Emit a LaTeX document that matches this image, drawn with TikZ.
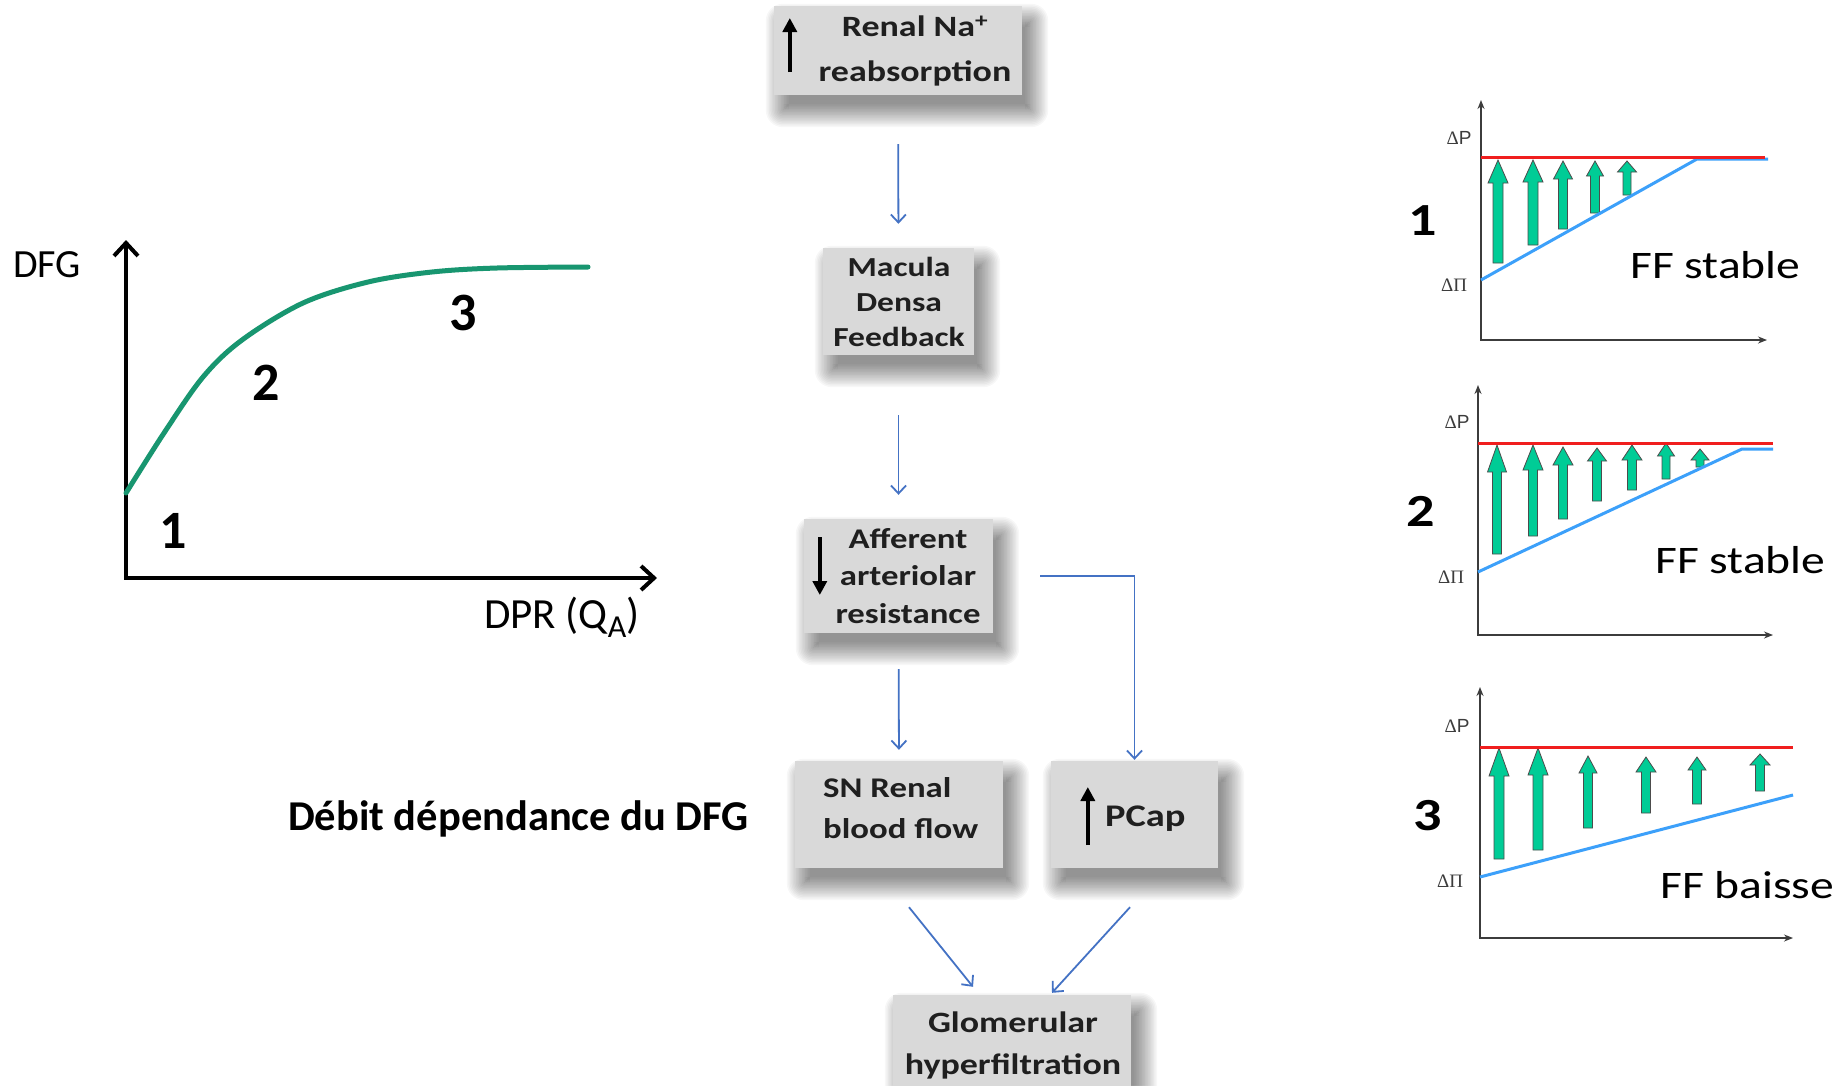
\documentclass[tikz,border=0pt]{standalone}
\usepackage{fontspec}
\setmainfont{Carlito}
\newfontfamily\wideface[FakeStretch=1.22]{Carlito}
\newfontfamily\greekface{Liberation Serif}
\newfontfamily\latinface{Liberation Sans}
\usetikzlibrary{arrows.meta,backgrounds}

\definecolor{boxgray}{RGB}{217,217,217}
\definecolor{flowblue}{RGB}{68,114,196}
\definecolor{curvegreen}{RGB}{24,150,112}
\definecolor{fillgreen}{RGB}{0,204,150}
\definecolor{lineblue}{RGB}{60,160,250}
\definecolor{linered}{RGB}{240,30,30}
\definecolor{axisgray}{RGB}{60,60,60}

% fat upward arrow: x, tip y, bottom y, head length, head width, shaft width
\newcommand{\fatup}[6]{%
  \filldraw[garrow] (#1-#6/2,#3) -- (#1-#6/2,#2+#4) -- (#1-#5/2,#2+#4) -- (#1,#2)
    -- (#1+#5/2,#2+#4) -- (#1+#6/2,#2+#4) -- (#1+#6/2,#3) -- cycle;}

% soft drop shadow under a box node, offset to the lower right
\newcommand{\softshadow}[1]{%
  \foreach \k [evaluate=\k as \e using 17-23*(\k-1)/15] in {1,...,16}{%
    \fill[black, opacity=0.033, rounded corners=\e pt]
      ([xshift=9pt-\e pt, yshift=-15pt+\e pt]#1.north west) rectangle
      ([xshift=9pt+\e pt, yshift=-15pt-\e pt]#1.south east);}}

\begin{document}
\begin{tikzpicture}[x=1pt,y=-1pt,
  box/.style={fill=boxgray, draw=none, inner sep=0pt},
  boxtext/.style={font=\wideface\bfseries\fontsize{28.5}{#1}\selectfont, align=center, inner sep=0pt, text=black!88},
  boxtext/.default=38,
  flow/.style={draw=flowblue, line width=1.8pt, -{Straight Barb[length=8pt,width=15pt]}},
  glyph/.style={line width=3.5pt, -{Triangle[length=14pt,width=14pt]}},
  graphaxis/.style={line width=4pt, {Straight Barb[length=13pt,width=24pt]}-{Straight Barb[length=13pt,width=24pt]}},
  paxis/.style={draw=axisgray, line width=1.5pt, {Stealth[length=9pt,width=7pt]}-{Stealth[length=9pt,width=7pt]}},
  garrow/.style={fill=fillgreen, draw=black!70, line width=0.8pt},
  redline/.style={draw=linered, line width=3pt},
  blueline/.style={draw=lineblue, line width=3pt},
  dlabel/.style={font=\fontsize{19}{22}\selectfont, text=axisgray, inner sep=0pt},
  bignum/.style={font=\bfseries\fontsize{54}{60}\selectfont, inner sep=0pt},
  panelnum/.style={font=\wideface\bfseries\fontsize{46}{50}\selectfont, inner sep=0pt},
  fflabel/.style={anchor=base west, font=\wideface\fontsize{39}{45}\selectfont, inner sep=0pt}]

\useasboundingbox (0,0) rectangle (1847,1085);

% ---------- flow chart boxes ----------
\node[box, minimum width=248pt, minimum height=89pt] (renal) at (898,50.5) {};
\node[boxtext=45, font=\wideface\bfseries\fontsize{29.5}{45}\selectfont] (renaltxt) at (915,51) {Renal Na\textsuperscript{+}\\reabsorption};
\draw[glyph] ([xshift=16pt,yshift=-21.5pt]renal.west) -- ([xshift=16pt,yshift=32.5pt]renal.west);

\node[box, minimum width=151pt, minimum height=107pt] (macula) at (898.5,301.5) {};
\node[boxtext, font=\wideface\bfseries\fontsize{27.5}{35}\selectfont] (maculatxt) at (899,302) {Macula\\Densa\\Feedback};

\node[box, minimum width=189pt, minimum height=114pt] (aff) at (898.5,576) {};
\node[boxtext=37.5] (afftxt) at (908,576) {Afferent\\arteriolar\\resistance};
\draw[glyph] ([xshift=16pt,yshift=39pt]aff.west) -- ([xshift=16pt,yshift=-19pt]aff.west);

\node[box, minimum width=208pt, minimum height=107pt] (sn) at (899,814.5) {};
\node[boxtext=41, align=left, anchor=west] (sntxt) at (823,808) {SN Renal\\blood flow};

\node[box, minimum width=167pt, minimum height=107pt] (pcap) at (1134.5,814.5) {};
\node[boxtext, font=\wideface\bfseries\fontsize{31.5}{38}\selectfont, anchor=base west] (pcaptxt) at (1105,826) {PCap};
\draw[glyph] ([xshift=37pt,yshift=-30.5pt]pcap.west) -- ([xshift=37pt,yshift=27.5pt]pcap.west);

\node[box, minimum width=238pt, minimum height=105pt] (glom) at (1012,1047.5) {};
\node[boxtext=42, font=\wideface\bfseries\fontsize{29.5}{42}\selectfont] (glomtxt) at (1013,1045) {Glomerular\\hyperfiltration};

% ---------- page and box shadows, behind everything ----------
\begin{pgfonlayer}{background}
  \fill[white] (0,0) rectangle (1847,1085);
  \softshadow{renal}
  \softshadow{macula}
  \softshadow{aff}
  \softshadow{sn}
  \softshadow{pcap}
  \softshadow{glom}
\end{pgfonlayer}

% ---------- flow connectors ----------
\draw[flow, shorten <=49pt, shorten >=24pt] (renal.south) -- (macula.north);
\draw[flow, shorten <=60pt, shorten >=24pt] (macula.south) -- (aff.north);
\draw[flow, shorten <=36pt, shorten >=11pt] (aff.south) -- (sn.north);
\draw[flow, shorten <=47pt, shorten >=1pt] (aff.east) -| (pcap.north);
\draw[flow] ([xshift=10pt,yshift=-39pt]sn.south) -- ([xshift=-39pt,yshift=8pt]glom.north);
\draw[flow] ([xshift=-4.5pt,yshift=-39pt]pcap.south) -- ([xshift=40pt,yshift=2pt]glom.north);

% ---------- GFR versus plasma flow curve ----------
\draw[graphaxis] (126,240) -- (126,578) -- (657,578);
\draw[curvegreen, line width=5pt, line cap=round]
  plot[smooth, tension=0.55] coordinates {(126,493) (164,433) (203,377) (242,340) (303,303)
    (368,282) (432,272) (497,268) (588,267)};
\node[anchor=west, font=\fontsize{40}{48}\selectfont, inner sep=0pt] (dfg) at (13,264.5) {DFG};
\node[anchor=base west, font=\fontsize{43}{50}\selectfont, inner sep=0pt] (dpr) at (484,628)
  {DPR (Q\raisebox{-0.22em}{\fontsize{32}{32}\selectfont A})};
\node[bignum] (g1) at (173,531) {1};
\node[bignum] (g2) at (266,383) {2};
\node[bignum] (g3) at (463,313) {3};
\node[anchor=base west, font=\bfseries\fontsize{42.5}{48}\selectfont, inner sep=0pt] (title) at (288,830) {Débit dépendance du DFG};

% ---------- panel 1 ----------
\draw[paxis] (1481,100) -- (1481,340) -- (1767,340);
\node[dlabel] (dp1) at (1459,138) {{\greekface Δ}{\latinface P}};
\node[dlabel] (dpi1) at (1454,285) {\greekface ΔΠ};
\fatup{1498}{160}{263}{23}{20}{10}
\fatup{1533}{160}{245}{22}{20}{10}
\fatup{1563}{161}{229}{18}{19}{9}
\fatup{1595}{161}{213}{15}{17}{9}
\fatup{1627}{161}{195}{11}{19}{8}
\draw[blueline] (1481,280) -- (1697,159) -- (1768,159);
\draw[redline] (1481,157) -- (1765,157);
\node[panelnum] (p1) at (1423,221) {1};
\node[fflabel] (ff1) at (1630,278) {FF stable};

% ---------- panel 2 ----------
\draw[paxis] (1478,385) -- (1478,635) -- (1773,635);
\node[dlabel] (dp2) at (1457,422) {{\greekface Δ}{\latinface P}};
\node[dlabel] (dpi2) at (1451,577) {\greekface ΔΠ};
\fatup{1497}{445}{554}{27}{19}{9}
\fatup{1533}{445}{536}{25}{20}{9}
\fatup{1563}{447}{519}{18}{20}{9}
\fatup{1597}{448}{501}{13}{19}{9}
\fatup{1632}{445}{490}{15}{20}{9}
\fatup{1666}{443}{479}{13}{17}{8}
\fatup{1700}{449}{467}{11}{18}{8}
\draw[blueline] (1478,572) -- (1742,449) -- (1773,449);
\draw[redline] (1478,443) -- (1773,443);
\node[panelnum] (p2) at (1421,511) {2};
\node[fflabel] (ff2) at (1655,573) {FF stable};

% ---------- panel 3 ----------
\draw[paxis] (1480,687) -- (1480,938) -- (1793,938);
\node[dlabel] (dp3) at (1457,726) {{\greekface Δ}{\latinface P}};
\node[dlabel] (dpi3) at (1450,881) {\greekface ΔΠ};
\fatup{1499}{748}{859}{28}{20}{10}
\fatup{1538}{748}{850}{27}{20}{10}
\fatup{1588}{756}{828}{17}{18}{9}
\fatup{1646}{757}{813}{15}{20}{9}
\fatup{1697}{757}{804}{13}{18}{9}
\fatup{1760}{754}{791}{11}{20}{9}
\draw[blueline] (1480,877) -- (1793,795);
\draw[redline] (1480,747) -- (1793,747);
\node[panelnum] (p3) at (1428,816) {3};
\node[fflabel] (ff3) at (1660,898) {FF baisse};

\end{tikzpicture}
\end{document}
